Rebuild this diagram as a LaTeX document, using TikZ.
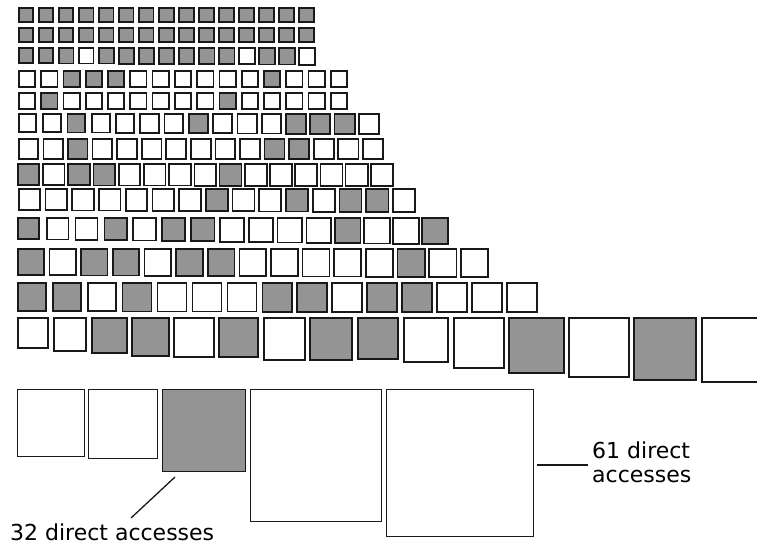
\documentclass[tikz,border=0pt]{standalone}
\usepackage{fontspec}
\setmainfont{DejaVu Sans}
\definecolor{sqg}{RGB}{148,148,148}
\definecolor{sqw}{RGB}{255,255,255}
\definecolor{edge}{RGB}{25,25,25}
\tikzset{
  sqbox/.style={draw=edge, line width=1.7pt},
  bigbox/.style={draw=edge, line width=1.4pt},
  leader/.style={draw=edge, line width=1.3pt},
  lbl/.style={font=\fontsize{22}{24}\selectfont, inner sep=0pt, anchor=base west},
}
% top, l0, l14, w0, w14, h0, h14, pattern
\newcommand\sqrow[8]{%
  \foreach \c [count=\i from 0] in {#8} {
    \pgfmathsetmacro\L{#2+\i*(#3-#2)/14}
    \pgfmathsetmacro\W{#4+\i*(#5-#4)/14}
    \pgfmathsetmacro\H{#6+\i*(#7-#6)/14}
    \filldraw[sqbox, fill=sq\c] (\L+0.85,#1+0.85) rectangle (\L+\W-0.85,#1+\H-0.85);
  }
}
\begin{document}
\begin{tikzpicture}[x=1pt,y=-1pt]
\useasboundingbox[fill=white] (0,0) rectangle (757,544);
\sqrow{7}{18}{298}{16}{17}{16}{16}{g,g,g,g,g,g,g,g,g,g,g,g,g,g,g}
\sqrow{27}{18}{298}{16}{17}{16}{16}{g,g,g,g,g,g,g,g,g,g,g,g,g,g,g}
\sqrow{47}{18}{298}{16}{18}{17}{18.5}{g,g,g,w,g,g,g,g,g,g,g,w,g,g,w}
\sqrow{70}{18}{330}{18}{18}{18}{18}{w,w,g,g,g,w,w,w,w,w,w,g,w,w,w}
\sqrow{92}{18}{330}{18}{18}{18}{18}{w,g,w,w,w,w,w,w,w,g,w,w,w,w,w}
\sqrow{113}{18}{358}{19}{22}{20}{22}{w,w,g,w,w,w,w,g,w,w,w,g,g,g,w}
\sqrow{138}{18}{362}{21}{22}{22}{22}{w,w,g,w,w,w,w,w,w,w,g,g,w,w,w}
\sqrow{163}{17}{370}{23}{24}{23}{24}{g,w,g,g,w,w,w,w,g,w,w,w,w,w,w}
\sqrow{188}{18}{392}{23}{24}{23}{25}{w,w,w,w,w,w,w,g,w,w,g,w,g,g,w}
\sqrow{217}{17}{421}{23}{28}{23}{28}{g,w,w,g,w,g,g,w,w,w,w,g,w,w,g}
\sqrow{248}{17}{460}{28}{29}{28}{30}{g,w,g,g,w,g,g,w,w,w,w,w,g,w,w}
\sqrow{282}{17}{506}{30}{32}{30}{31}{g,g,w,g,w,w,w,g,g,w,g,g,w,w,w}
% row 13
\foreach \l/\r/\b/\c in {17/49/349/w, 53/87/352/w, 91/128/354/g, 131/170/357/g,
  173/215/358/w, 218/259/358/g, 263/306/361/w, 309/353/361/g, 357/399/360/g,
  403/449/363/w, 453/505/369/w, 508/565/374/g, 568/630/378/w, 633/697/381/g,
  701/766/383/w}
  \filldraw[sqbox, fill=sq\c] (\l+0.85,317.85) rectangle (\r-0.85,\b-0.85);
% bottom row
\foreach \l/\r/\b/\c in {17/85/457/w, 88/158/459/w, 162/246/472/g, 250/382/522/w, 386/534/537/w}
  \filldraw[bigbox, fill=sq\c] (\l+0.7,389.7) rectangle (\r-0.7,\b-0.7);
% labels and leaders
\node[lbl] (t32) at (10,540) {32 direct accesses};
\coordinate (a1) at (175,477);
\coordinate (a2) at (131,518);
\draw[leader] (a1) -- (a2);
\node[lbl] (t61a) at (592,458) {61 direct};
\node[lbl] (t61b) at (592,482) {accesses};
\coordinate (c1) at (537,465);
\coordinate (c2) at (588,465);
\draw[leader] (c1) -- (c2);
\end{tikzpicture}
\end{document}
